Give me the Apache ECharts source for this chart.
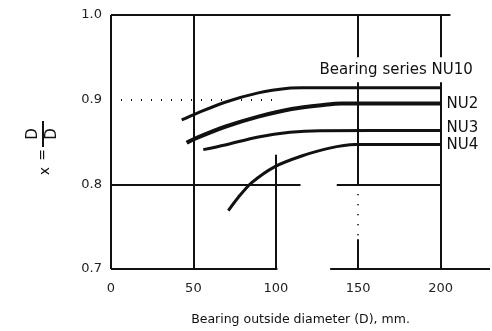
<!DOCTYPE html>
<html>
<head>
<meta charset="utf-8">
<script src="https://cdn.jsdelivr.net/npm/echarts@6/dist/echarts.min.js"></script>
<style>html,body{margin:0;padding:0;background:#fff}#c{width:492px;height:331px}</style>
</head>
<body>
<div id="c"></div>
<script>
// ---- data ----
const xTicks = [0, 50, 100, 150, 200];
const yTicks = [0.7, 0.8, 0.9, 1.0];
const seriesNames = ['Bearing series NU10', 'NU2', 'NU3', 'NU4'];
const nu10D = [42.9, 51.0, 69.2, 89.4, 107.6, 115.7, 200];
const nu10V = [0.876, 0.883, 0.897, 0.908, 0.9135, 0.914, 0.914];
const nu2D  = [45.9, 51.0, 69.2, 89.4, 109.6, 129.9, 140, 200];
const nu2V  = [0.849, 0.854, 0.868, 0.880, 0.889, 0.894, 0.8955, 0.8955];
const nu3D  = [56.0, 69.2, 89.4, 108.6, 126.8, 200];
const nu3V  = [0.841, 0.8465, 0.856, 0.8615, 0.8633, 0.8635];
const nu4D  = [71.2, 77.2, 85.4, 99.5, 115.7, 131.9, 148.1, 200];
const nu4V  = [0.769, 0.7845, 0.802, 0.821, 0.8335, 0.8425, 0.847, 0.847];
const xAxisName = 'Bearing outside diameter (D), mm.';

const FONT = "'DejaVu Sans', 'Liberation Sans', sans-serif";
const INK = '#111';
const pairs = (a, b) => a.map((d, i) => [d, b[i]]);

// frame / grid segments in data coordinates
const solid = { color: INK, width: 2, type: 'solid' };
const dotted = { color: INK, width: 2, type: [1, 9] };
const seg = (x1, y1, x2, y2, ls) => [{ coord: [x1, y1], lineStyle: ls }, { coord: [x2, y2] }];
const frameLines = [
  seg(0, 0.7, 0, 1.0, solid),
  seg(0, 1.0, 206, 1.0, solid),
  seg(0, 0.7, 101, 0.7, solid),
  seg(133, 0.7, 230, 0.7, solid),
  seg(0, 0.8, 115, 0.8, solid),
  seg(137, 0.8, 200, 0.8, solid),
  seg(0, 0.9, 102, 0.9, dotted),
  seg(50, 0.7, 50, 1.0, solid),
  seg(100, 0.7, 100, 0.835, solid),
  seg(150, 0.8, 150, 1.0, solid),
  seg(150, 0.8, 150, 0.735, dotted),
  seg(150, 0.735, 150, 0.7, solid),
  seg(200, 0.7, 200, 1.0, solid)
];

const chart = echarts.init(document.getElementById('c'), null, { renderer: 'canvas' });

function curve(name, d, v, lw, labelOpt, z) {
  return {
    name, type: 'line', data: pairs(d, v), z: z,
    smooth: 0.3, showSymbol: false, symbol: 'none',
    lineStyle: { color: INK, width: lw },
    endLabel: Object.assign({
      show: true, formatter: name, color: INK, fontFamily: FONT, fontSize: 15, distance: 6
    }, labelOpt),
    labelLayout: { hideOverlap: false },
    silent: true
  };
}

chart.setOption({
  animation: false,
  backgroundColor: '#fff',
  grid: { left: 111, right: 2, top: 15, bottom: 58, containLabel: false },
  xAxis: {
    type: 'value', min: 0, max: 230, interval: 50,
    axisLine: { show: false }, axisTick: { show: false }, splitLine: { show: false },
    axisLabel: {
      showMaxLabel: false, margin: 13, color: '#222', fontSize: 13, fontFamily: FONT,
      formatter: v => (xTicks.indexOf(v) >= 0 ? String(v) : '')
    },
    name: xAxisName, nameLocation: 'middle', nameGap: 44,
    nameTextStyle: { color: INK, fontSize: 12.5, fontFamily: FONT }
  },
  yAxis: {
    type: 'value', min: yTicks[0], max: yTicks[yTicks.length - 1], interval: 0.1,
    axisLine: { show: false }, axisTick: { show: false }, splitLine: { show: false },
    axisLabel: { margin: 9, color: '#222', fontSize: 13, fontFamily: FONT, formatter: v => v.toFixed(1) }
  },
  series: [
    {
      type: 'line', data: [], z: 1, silent: true,
      markLine: {
        silent: true, symbol: ['none', 'none'], animation: false,
        label: { show: false }, emphasis: { disabled: true },
        data: frameLines
      }
    },
    curve(seriesNames[0], nu10D, nu10V, 3, {
      offset: [-129, -18], backgroundColor: '#fff', padding: [5, 2]
    }, 5),
    curve(seriesNames[1], nu2D, nu2V, 4, { offset: [0, 1] }, 4),
    curve(seriesNames[2], nu3D, nu3V, 3, { offset: [0, -2] }, 4),
    curve(seriesNames[3], nu4D, nu4V, 3, { offset: [0, 1] }, 4)
  ],
  graphic: [{
    type: 'group', x: 43, y: 150, rotation: Math.PI / 2, silent: true,
    children: [
      { type: 'line', shape: { x1: 3, y1: 0, x2: 29, y2: 0 }, style: { stroke: INK, lineWidth: 2 } },
      { type: 'text', x: 16, y: -2, style: { text: 'D', fill: INK, font: '15px ' + FONT, align: 'center', verticalAlign: 'bottom' } },
      { type: 'text', x: 16, y: 2, style: { text: 'D', fill: INK, font: '15px ' + FONT, align: 'center', verticalAlign: 'top' } },
      { type: 'text', x: -5, y: 0, style: { text: '=', fill: INK, font: '14px ' + FONT, align: 'center', verticalAlign: 'middle' } },
      { type: 'text', x: -21, y: 2, style: { text: 'x', fill: INK, font: '14px ' + FONT, align: 'center', verticalAlign: 'middle' } }
    ]
  }]
});
</script>
</body>
</html>
